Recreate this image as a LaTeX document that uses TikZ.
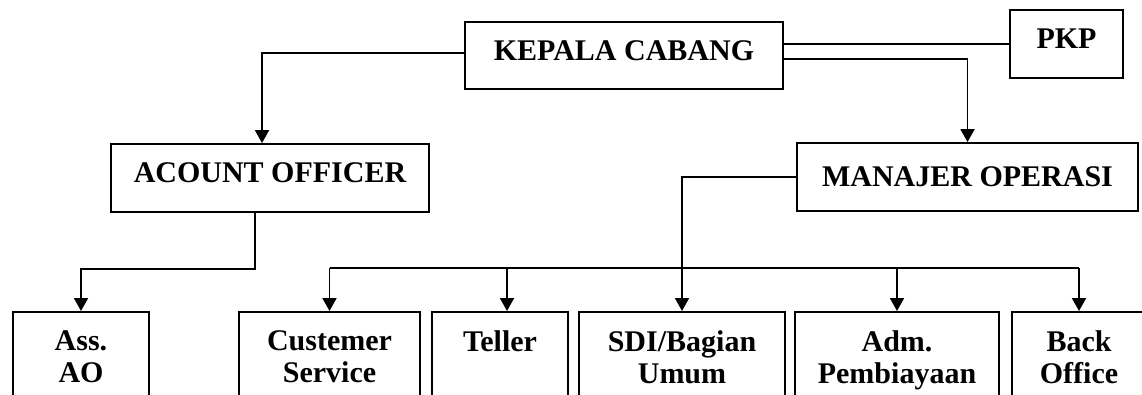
\documentclass[tikz,border=0pt]{standalone}
\usepackage{fontspec}
\setmainfont{Liberation Serif}
\usepackage{tikz}
\usetikzlibrary{arrows.meta, positioning, calc}

\tikzset{
  box/.style={draw, line width=1.9pt, inner sep=0pt, minimum height=67pt,
    font=\fontsize{30}{32}\selectfont\bfseries, text height=20pt, text depth=10pt},
  unit/.style={draw, line width=1.9pt, anchor=north, inner xsep=0pt, inner ysep=18.5pt,
    align=center, font=\fontsize{30}{32}\selectfont\bfseries},
  link/.style={line width=1.9pt},
  arr/.style={line width=1.9pt, -{Triangle[width=14pt,length=13pt]}}
}

\begin{document}
\begin{tikzpicture}[x=1pt, y=-1pt]
  \useasboundingbox (0,0) rectangle (1142,395);

  % top levels
  \node[box, minimum width=318pt] (kc) at (624,55.5) {KEPALA CABANG};
  \node[box, minimum width=113pt, minimum height=68pt] (pkp) at (1066.5,44) {PKP};
  \node[box, minimum width=318pt, minimum height=68pt] (ao) at (270,178) {ACOUNT OFFICER};
  \node[box, minimum width=341pt, minimum height=68pt, text depth=0pt] (mo) at (967.5,177) {MANAJER OPERASI};

  % units
  \node[unit, minimum width=136pt] (ass) at (81,311) {Ass.\\AO};
  \node[unit, minimum width=181pt] (cs) at (329.5,311) {Custemer\\Service};
  \node[unit, minimum width=136pt] (teller) at (500,311) {Teller\\\mbox{}};
  \node[unit, minimum width=206pt] (sdi) at (682,311) {SDI/Bagian\\Umum};
  \node[unit, minimum width=204pt] (adm) at (897,311) {Adm.\\Pembiayaan};
  \node[unit, minimum width=134pt] (bo) at (1079,311) {Back\\Office};

  % connectors
  \draw[link] (pkp.west) -- (pkp.west -| kc.east);
  \draw[arr] ([yshift=-3.5pt]kc.east) -| (mo.north);
  \draw[arr] ([yshift=2.5pt]kc.west) -| ([xshift=-8pt]ao.north);
  \draw[arr] ([xshift=-15pt]ao.south) -- ++(0,56) -| (ass.north);
  \draw[arr] (mo.west) -| (sdi.north);

  \coordinate (bus) at (0,268);
  \draw[link] (cs.north |- bus) -- (bo.north |- bus);
  \foreach \n in {cs,adm,bo}
    \draw[arr] (\n.north |- bus) -- (\n.north);
  \draw[arr] ($(teller.north |- bus)+(7,0)$) -- ($(teller.north)+(7,0)$);
\end{tikzpicture}
\end{document}
